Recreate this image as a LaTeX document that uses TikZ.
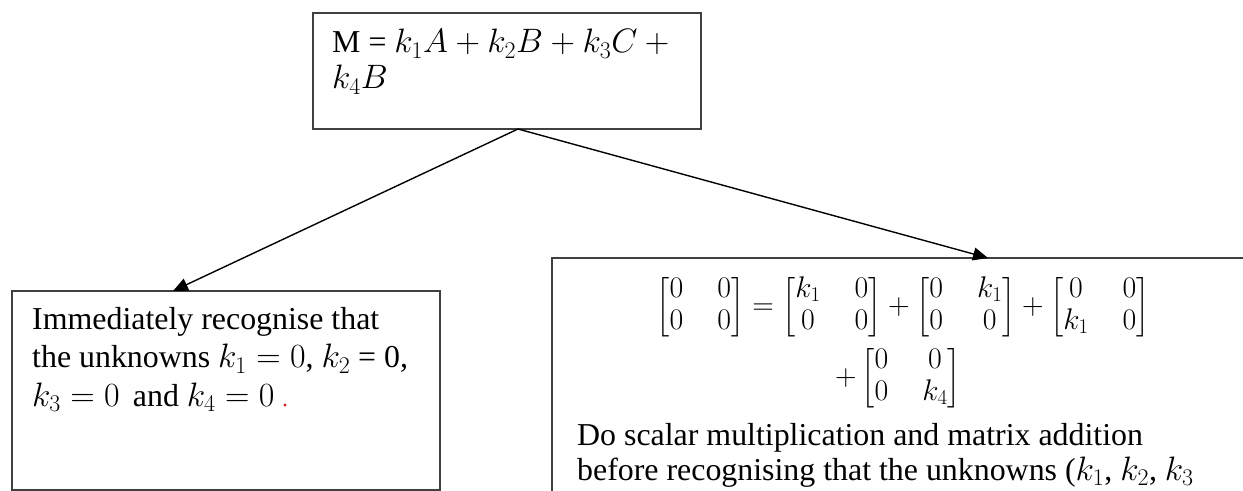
\RequirePackage{fix-cm}
\documentclass[tikz,border=0pt]{standalone}
\usepackage{amsmath}
\usepackage{fontspec}
\setmainfont{Liberation Serif}
\usetikzlibrary{arrows.meta}
\DeclareMathSizes{32}{34}{24}{18}
\tikzset{
  boxst/.style={draw=black!75, line width=1.3pt, fill=white},
  txt/.style={font=\fontsize{32}{37.5}\selectfont, inner sep=0pt, align=left},
  mtx/.style={font=\fontsize{30}{32}\selectfont, inner sep=0pt},
  arr/.style={line width=1.4pt, -{Triangle[length=15pt,width=13pt]}},
}
\begin{document}
\begin{tikzpicture}[x=1bp,y=-1bp]
\useasboundingbox (0,0) rectangle (1243,491);
\clip (0,0) rectangle (1243,491);
% boxes
\draw[boxst] (313,13) rectangle (701,129);
\node[inner sep=0pt] (top) at (507,71) [minimum width=388bp, minimum height=116bp] {};
\draw[boxst] (12,291) rectangle (440,490);
\node[inner sep=0pt] (left) at (226,390.5) [minimum width=428bp, minimum height=199bp] {};
\draw[boxst] (552,258) rectangle (1300,560);
\node[inner sep=0pt] (right) at (926,409) [minimum width=748bp, minimum height=302bp] {};
% texts
\node[txt, anchor=base west] (t1) at (332,53) {M = $k_1A + k_2B + k_3C + {}$};
\node[txt, anchor=base west] (t2) at (332,89) {$k_4B$};
\node[txt, anchor=base west] (l1) at (32,330) {Immediately recognise that};
\node[txt, anchor=base west] (l2) at (32,368) {the unknowns $k_1 = 0$, $k_2$ = 0,};
\node[txt, anchor=base west] (l3) at (32,406) {$k_3 = 0$ \,and $k_4 = 0$ {\color{red}\fontsize{22}{22}\selectfont.}};
\node[mtx, anchor=center] (m1) at (903,307) {\setlength{\arraycolsep}{17bp}$\begin{bmatrix}0&0\\0&0\end{bmatrix} = \begin{bmatrix}k_1&0\\0&0\end{bmatrix} + \begin{bmatrix}0&k_1\\0&0\end{bmatrix} + \begin{bmatrix}0&0\\k_1&0\end{bmatrix}$};
\node[mtx, anchor=center] (m2) at (898,378) {\setlength{\arraycolsep}{17bp}$+\begin{bmatrix}0&0\\0&k_4\end{bmatrix}$};
\node[txt, anchor=base west] (r1) at (577,445) {Do scalar multiplication and matrix addition};
\node[txt, anchor=base west] (r2) at (577,480) {before recognising that the unknowns ($k_1$, $k_2$, $k_3$};
% arrows
\coordinate (apex) at (518,129);
\draw[arr] (apex) -- (173,291);
\draw[arr] (apex) -- (988,258);
\end{tikzpicture}
\end{document}
